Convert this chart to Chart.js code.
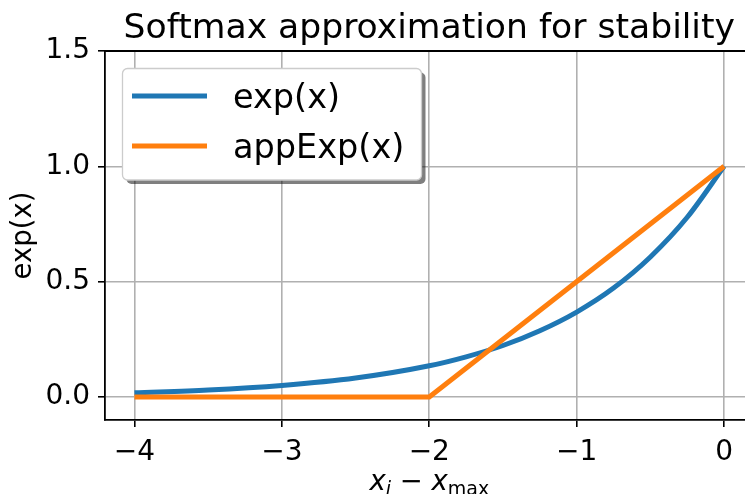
<!DOCTYPE html>
<html>
<head>
<meta charset="utf-8">
<script src="https://cdn.jsdelivr.net/npm/chart.js@4/dist/chart.umd.min.js"></script>
<style>
  html, body { margin: 0; padding: 0; background: #fff; overflow: hidden; }
  #wrap { width: 745px; height: 494px; }
</style>
</head>
<body>
<div id="wrap"><canvas id="chart" width="745" height="494"></canvas></div>
<script>
// --- data ---
const xTicks = [-4, -3, -2, -1, 0];
const yTicks = [0, 0.5, 1.0, 1.5];

const expX = [-4, -3.5, -3, -2.5, -2, -1.75, -1.5, -1.25, -1, -0.75, -0.5, -0.25, 0];
const expY = [0.018, 0.030, 0.050, 0.082, 0.135, 0.174, 0.223, 0.287, 0.368, 0.472, 0.607, 0.779, 1.0];

const appX = [-4, -2, 0];
const appY = [0, 0, 1];

const FONT = "'DejaVu Sans', sans-serif";
const GRID = '#b0b0b0';

// only draw grid / tick marks on our own tick values
const onTick = (list, col) => ctx =>
    (ctx.tick && list.includes(ctx.tick.value)) ? col : 'rgba(0,0,0,0)';

// titles, legend and top spine drawn matplotlib-style
const decor = {
    id: 'decor',
    afterDraw(chart) {
        const c = chart.ctx;
        const a = chart.chartArea;
        // the axes in the reference run past the right edge (xlim 0.2 at ~753px)
        const cx = (a.left + 753.5) / 2;
        c.save();

        // top spine
        c.strokeStyle = '#000';
        c.lineWidth = 1.8;
        c.beginPath();
        c.moveTo(a.left, a.top);
        c.lineTo(a.right, a.top);
        c.stroke();

        // title
        c.fillStyle = '#000';
        c.font = '34.6px ' + FONT;
        c.textAlign = 'center';
        c.textBaseline = 'alphabetic';
        c.fillText('Softmax approximation for stability', cx, 38);

        // y label
        c.save();
        c.translate(24, (a.top + a.bottom) / 2);
        c.rotate(-Math.PI / 2);
        c.font = '27.5px ' + FONT;
        c.textBaseline = 'middle';
        c.fillText('exp(x)', 0, 0);
        c.restore();

        // x label: x_i − x_max
        const big = 27.5, small = 19;
        const parts = [
            { t: 'x', f: 'italic ' + big + 'px ' + FONT, dy: 0 },
            { t: 'i', f: 'italic ' + small + 'px ' + FONT, dy: 5 },
            { t: ' \u2212 ', f: big + 'px ' + FONT, dy: 0 },
            { t: 'x', f: 'italic ' + big + 'px ' + FONT, dy: 0 },
            { t: 'max', f: small + 'px ' + FONT, dy: 5 }
        ];
        let total = 0;
        parts.forEach(p => { c.font = p.f; p.w = c.measureText(p.t).width; total += p.w; });
        let px = cx - total / 2;
        c.textAlign = 'left';
        c.textBaseline = 'alphabetic';
        parts.forEach(p => { c.font = p.f; c.fillText(p.t, px, 490 + p.dy); px += p.w; });

        // legend with drop shadow
        const lx = 122.5, ly = 68.5, lw = 299, lh = 111.5, r = 5;
        c.fillStyle = 'rgba(0,0,0,0.5)';
        c.beginPath();
        c.roundRect(lx + 4, ly + 4, lw, lh, r);
        c.fill();
        c.fillStyle = '#fff';
        c.beginPath();
        c.roundRect(lx, ly, lw, lh, r);
        c.fill();
        c.strokeStyle = '#cccccc';
        c.lineWidth = 1.3;
        c.stroke();

        c.font = '33.5px ' + FONT;
        chart.data.datasets.forEach((ds, i) => {
            const y = 96 + i * 50;
            c.strokeStyle = ds.borderColor;
            c.lineWidth = 5;
            c.lineCap = 'butt';
            c.beginPath();
            c.moveTo(132, y);
            c.lineTo(207, y);
            c.stroke();
            c.fillStyle = '#000';
            c.fillText(ds.label, 233, y + 12);
        });
        c.restore();
    }
};

const chart = new Chart(document.getElementById('chart'), {
    type: 'line',
    data: {
        datasets: [
            {
                label: 'exp(x)',
                data: expX.map((x, i) => ({ x: x, y: expY[i] })),
                borderColor: '#1f77b4',
                borderWidth: 5,
                pointRadius: 0,
                cubicInterpolationMode: 'monotone',
                order: 2
            },
            {
                label: 'appExp(x)',
                data: appX.map((x, i) => ({ x: x, y: appY[i] })),
                borderColor: '#ff7f0e',
                borderWidth: 5,
                pointRadius: 0,
                tension: 0,
                order: 1 // orange on top, as in the reference
            }
        ]
    },
    options: {
        responsive: false,
        animation: false,
        layout: { padding: { top: 51, right: 0, bottom: 0, left: 0 } },
        plugins: {
            legend: { display: false },
            title: { display: false },
            tooltip: { enabled: false }
        },
        scales: {
            x: {
                type: 'linear',
                min: -4.2,
                max: 0.142, // visible part of the (-4.2, 0.2) range
                afterBuildTicks: s => { s.ticks = xTicks.map(v => ({ value: v })); },
                afterFit: s => { s.height = 74; },
                ticks: {
                    color: '#000',
                    font: { family: FONT, size: 28 },
                    padding: 9,
                    maxRotation: 0,
                    callback: v => (v < 0 ? '\u2212' + Math.abs(v) : String(v))
                },
                grid: {
                    color: onTick(xTicks, GRID),
                    tickColor: onTick(xTicks, '#000'),
                    lineWidth: 1.6, tickLength: 7, tickWidth: 1.6
                },
                border: { color: '#000', width: 1.8 }
            },
            y: {
                min: -0.1,
                max: 1.5,
                afterBuildTicks: s => { s.ticks = yTicks.map(v => ({ value: v })); },
                afterFit: s => { s.width = 105; },
                ticks: {
                    color: '#000',
                    font: { family: FONT, size: 28 },
                    padding: 8,
                    callback: v => v.toFixed(1)
                },
                grid: {
                    color: onTick(yTicks, GRID),
                    tickColor: onTick(yTicks, '#000'),
                    lineWidth: 1.6, tickLength: 7, tickWidth: 1.6
                },
                border: { color: '#000', width: 1.8 }
            }
        }
    },
    plugins: [decor]
});
</script>
</body>
</html>
